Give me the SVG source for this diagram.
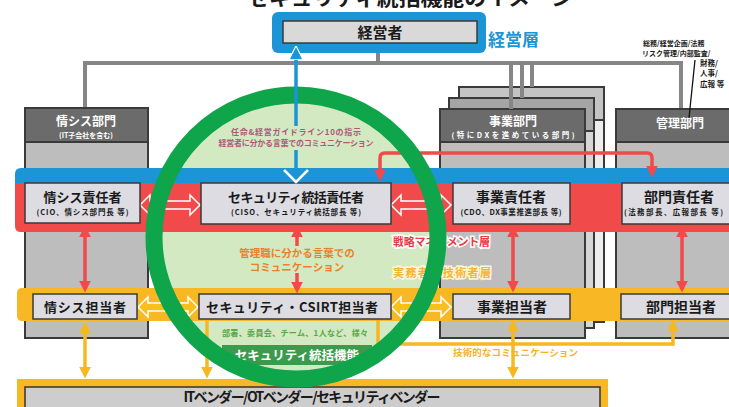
<svg xmlns="http://www.w3.org/2000/svg" width="729" height="407" viewBox="0 0 729 407">
<style>
text{font-family:"Noto Sans CJK JP","Noto Sans",sans-serif;font-weight:700;fill:#1a1a1a}
.hdr{fill:#6b6b6b;stroke:#3a3a3a;stroke-width:2}
.body{fill:#bdbdbd;stroke:#3a3a3a;stroke-width:2}
.box{fill:#dcdce2;stroke:#3a3a3a;stroke-width:1.5}
.wt{fill:#fff}
.gl{stroke:#868686;stroke-width:4;fill:none}
.ra{stroke:#f04a4a;stroke-width:3.5;fill:none}
.ya{stroke:#f7b723;stroke-width:3.5;fill:none}
.hr{fill:none;stroke:#fff;stroke-width:1.5}
.hy{fill:#f8c01a;stroke:#fff;stroke-width:1.5}
.m{text-anchor:middle}
</style>
<defs>
<marker id="mr" viewBox="0 0 10 10" refX="7" refY="5" markerWidth="12" markerHeight="12" markerUnits="userSpaceOnUse" orient="auto-start-reverse"><path d="M0,0L10,5L0,10z" fill="#f04a4a"/></marker>
<marker id="my" viewBox="0 0 10 10" refX="7" refY="5" markerWidth="12" markerHeight="12" markerUnits="userSpaceOnUse" orient="auto-start-reverse"><path d="M0,0L10,5L0,10z" fill="#f7b723"/></marker>
<marker id="mb" viewBox="0 0 10 10" refX="7" refY="5" markerWidth="14" markerHeight="14" markerUnits="userSpaceOnUse" orient="auto-start-reverse"><path d="M0,0L10,5L0,10z" fill="#1b95d5" stroke="#fff" stroke-width="0.8"/></marker>
<path id="dbl" d="M-30,0L-20,-10V-4H20V-10L30,0L20,10V4H-20V10Z"/>
</defs>

<text x="247" y="5.5" font-size="20" textLength="326" lengthAdjust="spacingAndGlyphs">セキュリティ統括機能のイメージ</text>

<g id="connectors-top">
<path class="gl" d="M378,43V63M85,108V63H681V109"/>
</g>

<g id="joho-bumon">
<rect class="body" x="25" y="108" width="123" height="230"/>
<rect class="hdr" x="25" y="108" width="123" height="34"/>
<text class="wt m" x="86" y="126" font-size="12">情シス部門</text>
<text class="wt m" x="86" y="138" font-size="7">(IT子会社を含む)</text>
</g>

<g id="jigyo-bumon">
<rect x="459" y="87" width="145" height="235" fill="#ededed" stroke="#3a3a3a" stroke-width="2"/>
<rect x="459" y="87" width="145" height="33" fill="#c4c4c4" stroke="#3a3a3a" stroke-width="2"/>
<rect x="449" y="98" width="145" height="230" fill="#d6d6d6" stroke="#3a3a3a" stroke-width="2"/>
<rect x="449" y="98" width="145" height="33" fill="#a5a5a5" stroke="#3a3a3a" stroke-width="2"/>
<rect class="body" x="440" y="109" width="145" height="229"/>
<rect class="hdr" x="440" y="109" width="145" height="33"/>
<text class="wt m" x="513" y="126" font-size="12">事業部門</text>
<text class="wt m" x="513" y="138" font-size="7.5" textLength="123">(特にDXを進めている部門)</text>
</g>
<g id="connectors-jigyo">
<path class="gl" d="M511,63V109M522,63V98M532,63V87"/>
</g>

<g id="kanri-bumon">
<rect class="body" x="616" y="109" width="130" height="229"/>
<rect class="hdr" x="616" y="109" width="130" height="33"/>
<text class="wt m" x="680" y="128" font-size="12">管理部門</text>
</g>

<g id="kanri-label">
<text x="643" y="46" font-size="7">総務/経営企画/法務</text>
<text x="642" y="56" font-size="7">リスク管理/内部監査/</text>
<text x="700" y="66" font-size="7.5">財務/</text>
<text x="700" y="76" font-size="7.5">人事/</text>
<text x="700" y="87" font-size="7.5">広報 等</text>
<line x1="695" y1="60" x2="689" y2="118" stroke="#111" stroke-width="1.3"/>
</g>

<circle id="security-area" cx="296" cy="237" r="135" fill="#d3e9c2"/>

<g id="bands">
<path d="M15,174Q15,168 21,168H729V183H15Z" fill="#1b95d5"/>
<path d="M15,183H729V232H21Q15,232 15,226Z" fill="#f04a4a"/>
<path d="M17,293Q17,288 22,288H729V321H22Q17,321 17,316Z" fill="#f8b825"/>
</g>

<g id="connectors">
<path class="ra" d="M380,178V158Q380,153 385,153H647Q652,153 652,158V174" marker-start="url(#mr)" marker-end="url(#mr)"/>
<line class="ra" x1="85" y1="229" x2="85" y2="289" marker-start="url(#mr)" marker-end="url(#mr)"/>
<line class="ra" x1="297" y1="246" x2="297" y2="229" marker-end="url(#mr)"/>
<line class="ra" x1="297" y1="273" x2="297" y2="290" marker-end="url(#mr)"/>
<line class="ra" x1="513" y1="229" x2="513" y2="289" marker-start="url(#mr)" marker-end="url(#mr)"/>
<line class="ra" x1="682" y1="229" x2="682" y2="289" marker-start="url(#mr)" marker-end="url(#mr)"/>
<use href="#dbl" class="hr" x="170" y="205"/>
<use href="#dbl" class="hr" x="421" y="205"/>
<use href="#dbl" class="hy" x="168" y="307"/>
<use href="#dbl" class="hy" x="421" y="307"/>
<line class="ya" x1="85" y1="325" x2="85" y2="375" marker-start="url(#my)" marker-end="url(#my)"/>
<line class="ya" x1="207" y1="321" x2="207" y2="375" marker-end="url(#my)"/>
<line class="ya" x1="513" y1="323" x2="513" y2="375" marker-start="url(#my)" marker-end="url(#my)"/>
<path class="ya" d="M378,321V344H673V323" marker-end="url(#my)"/>
</g>

<g id="joho-sekinin">
<rect class="box" x="25" y="183" width="115" height="40"/>
<text class="m" x="82.5" y="202" font-size="13">情シス責任者</text>
<text class="m" x="82.5" y="215" font-size="7.5" textLength="92">(CIO、情シス部門長 等)</text>
</g>
<g id="security-sekinin">
<rect class="box" x="201" y="183" width="190" height="41"/>
<text class="m" x="296" y="202" font-size="13" textLength="136">セキュリティ統括責任者</text>
<text class="m" x="296" y="215" font-size="7.5" textLength="130">(CISO、セキュリティ統括部長 等)</text>
</g>
<g id="jigyo-sekinin">
<rect class="box" x="453" y="183" width="117" height="41"/>
<text class="m" x="511" y="202" font-size="14">事業責任者</text>
<text class="m" x="511" y="215" font-size="7.5" textLength="101">(CDO、DX事業推進部長 等)</text>
</g>
<g id="bumon-sekinin">
<rect class="box" x="622" y="183" width="120" height="41"/>
<text class="m" x="679" y="202" font-size="14">部門責任者</text>
<text x="624" y="215" font-size="7.5" textLength="99">(法務部長、広報部長 等)</text>
</g>

<g id="layer-labels">
<text x="393" y="246" font-size="11" textLength="97" stroke="#fff" stroke-width="3" paint-order="stroke" style="fill:#ea3a48">戦略マネジメント層</text>
<text x="393" y="277" font-size="11" textLength="98" stroke="#fff6d8" stroke-width="3" paint-order="stroke" style="fill:#f6b331">実務者・技術者層</text>
<text class="m" x="297" y="257" font-size="10.5" style="fill:#e8822a">管理職に分かる言葉での</text>
<text class="m" x="297" y="271" font-size="10.5" style="fill:#e8822a">コミュニケーション</text>
<text x="453" y="356" font-size="9.5" textLength="125" style="fill:#f5b22d">技術的なコミュニケーション</text>
</g>

<g id="joho-tanto">
<rect class="box" x="33" y="294" width="104" height="25"/>
<text class="m" x="85" y="312" font-size="13" textLength="82">情シス担当者</text>
</g>
<g id="security-tanto">
<rect class="box" x="199" y="294" width="192" height="25"/>
<text class="m" x="292" y="312" font-size="13" textLength="172">セキュリティ・CSIRT担当者</text>
</g>
<g id="jigyo-tanto">
<rect class="box" x="453" y="294" width="117" height="25"/>
<text class="m" x="512" y="312" font-size="14">事業担当者</text>
</g>
<g id="bumon-tanto">
<rect class="box" x="621" y="294" width="120" height="25"/>
<text class="m" x="681" y="312" font-size="14">部門担当者</text>
</g>

<g id="security-kino">
<text class="m" x="295" y="336" font-size="8" textLength="146" style="fill:#58a845">部署、委員会、チーム、1人など、様々</text>
<rect x="222" y="345" width="150" height="20" fill="#3b9a4c"/>
<text class="wt m" x="297" y="360" font-size="12.5">セキュリティ統括機能</text>
</g>

<g id="vendor">
<rect x="17" y="379" width="591" height="40" fill="#f8b825"/>
<rect x="25" y="387" width="575" height="30" fill="#cdcdcd" stroke="#333" stroke-width="1.5"/>
<text class="m" x="312" y="402" font-size="14" textLength="257">ITベンダー/OTベンダー/セキュリティベンダー</text>
</g>

<g id="keiei">
<rect x="272" y="12" width="214" height="41" rx="6" fill="#1b95d5"/>
<rect x="283" y="21" width="194" height="22" fill="#d9d9d9" stroke="#3a3a3a" stroke-width="1.5"/>
<text class="m" x="380" y="38" font-size="15">経営者</text>
<text x="488" y="46" font-size="17" style="fill:#1b95d5">経営層</text>
</g>

<circle id="highlight-ring" cx="296" cy="237" r="142" fill="none" stroke="#0ea54b" stroke-width="17"/>

<g id="connector-blue">
<line x1="296" y1="183" x2="296" y2="50" stroke="#1b95d5" stroke-width="3.5" marker-end="url(#mb)"/>
<polyline points="284,170 296,182 308,170" fill="none" stroke="#fff" stroke-width="2.5"/>
<rect x="286" y="126" width="20" height="24" fill="#d3e9c2"/>
<text class="m" x="296" y="135" font-size="8" textLength="130" style="fill:#b0587a">任命&amp;経営ガイドライン10の指示</text>
<text class="m" x="296" y="146" font-size="8" textLength="155" style="fill:#b0587a">経営者に分かる言葉でのコミュニケーション</text>
</g>
</svg>
